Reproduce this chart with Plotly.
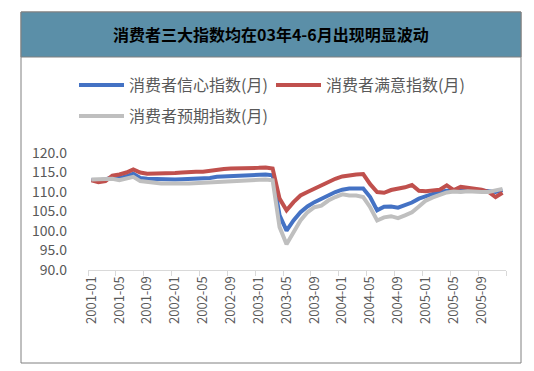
import plotly.graph_objects as go

months = [f"{y}-{m:02d}" for y in range(2001, 2006) for m in range(1, 13)]

confidence = [113.1, 113.0, 113.2, 113.8, 113.6, 114.0, 114.7, 113.6, 113.4, 113.3,
              113.2, 113.2, 113.2, 113.3, 113.4, 113.4, 113.4, 113.6, 113.9, 114.0,
              114.0, 114.1, 114.3, 114.4, 114.5, 114.5, 114.3, 104.0, 100.1, 102.7,
              104.8, 106.3, 107.4, 108.3, 109.1, 110.0, 110.6, 110.9, 110.9, 110.9,
              108.7, 105.3, 106.2, 106.3, 106.0, 106.6, 107.3, 108.3, 109.0, 109.5,
              110.0, 110.3, 110.3, 110.5, 110.4, 110.6, 110.4, 110.2, 110.0, 110.5]

satisfaction = [113.0, 112.5, 112.8, 114.2, 114.5, 115.0, 115.8, 115.0, 114.7, 114.7,
                114.8, 114.8, 114.9, 115.0, 115.2, 115.2, 115.2, 115.5, 115.8, 115.9,
                116.0, 116.0, 116.0, 116.1, 116.2, 116.3, 116.0, 108.3, 105.3, 107.4,
                109.1, 110.0, 110.9, 111.7, 112.6, 113.4, 114.0, 114.3, 114.5, 114.6,
                112.0, 110.0, 109.8, 110.5, 110.8, 111.2, 111.8, 110.3, 110.2, 110.4,
                110.6, 111.7, 110.5, 111.3, 111.0, 110.8, 110.6, 110.0, 108.7, 109.8]

expectation = [113.2, 113.2, 113.4, 113.4, 113.0, 113.4, 113.9, 112.8, 112.6, 112.3,
               112.2, 112.2, 112.3, 112.2, 112.2, 112.3, 112.3, 112.5, 112.6, 112.6,
               112.6, 112.8, 113.0, 113.1, 113.2, 113.2, 113.0, 101.0, 96.6, 99.6,
               102.7, 104.8, 106.1, 106.5, 107.8, 108.7, 109.4, 109.1, 109.1, 108.7,
               106.1, 102.7, 103.5, 103.8, 103.3, 104.0, 104.8, 106.3, 107.8, 108.6,
               109.2, 109.9, 110.1, 110.0, 110.2, 110.0, 110.0, 110.0, 110.3, 110.8]

names = ["消费者信心指数(月)", "消费者满意指数(月)", "消费者预期指数(月)"]
colors = ["#4472C4", "#C0504D", "#BFBFBF"]
title_text = "消费者三大指数均在03年4-6月出现明显波动"

# page is offset by the browser's default 8px body margin
OFF = 8
PAGE_W, PAGE_H = 534, 371
W, H = PAGE_W - OFF, PAGE_H - OFF
# plot area in page pixels
PX0, PX1, PY0, PY1 = 88, 506, 153, 270
L, R, T, B = PX0 - OFF, PAGE_W - PX1, PY0 - OFF, PAGE_H - PY1
PW, PH = W - L - R, H - T - B

def px_x(px):
    return (px - OFF - L) / PW

def px_y(py):
    return (H - B - (py - OFF)) / PH

FONT = "Noto Sans CJK SC"
idx = list(range(len(months)))

fig = go.Figure()
series = [confidence, satisfaction, expectation]
legends = ["legend", "legend2", "legend3"]
for s, n, c, lg in zip(series, names, colors, legends):
    fig.add_trace(go.Scatter(x=idx, y=s, name=n, mode="lines",
                             line=dict(color=c, width=4), legend=lg))

tickvals = idx[::4]
ticktext = [months[i] for i in tickvals]

def leg(xpx, ypx):
    return dict(orientation="h", xref="container", yref="container",
                x=(xpx - OFF) / W, y=1 - (ypx - OFF) / H, xanchor="left", yanchor="top",
                itemwidth=45,
                font=dict(size=16, color="#595959", family=FONT),
                bgcolor="rgba(0,0,0,0)")

fig.update_layout(
    width=W, height=H,
    margin=dict(l=L, r=R, t=T, b=B, autoexpand=False),
    paper_bgcolor="white", plot_bgcolor="white",
    font=dict(family=FONT, color="#595959"),
    showlegend=True,
    legend=leg(74, 68),
    legend2=leg(271, 68),
    legend3=leg(74, 99),
    xaxis=dict(range=[-0.5, len(months) - 0.5], tickvals=tickvals, ticktext=ticktext,
               tickangle=-90, ticks="", showgrid=False, zeroline=False,
               showline=True, linecolor="#D9D9D9", linewidth=1,
               tickfont=dict(size=13, color="#595959", family=FONT),
               minor=dict(tick0=-0.5, dtick=4, ticks="outside", ticklen=5,
                          tickcolor="#D9D9D9", showgrid=False)),
    yaxis=dict(range=[90, 120], dtick=5, tickformat=".1f", showgrid=False,
               zeroline=False, showline=False, ticks="", ticklabelstandoff=20,
               tickfont=dict(size=14, color="#595959", family=FONT)),
    shapes=[
        dict(type="rect", xref="paper", yref="paper",
             x0=px_x(21), x1=px_x(521), y0=px_y(363), y1=px_y(12),
             line=dict(color="#808080", width=1), fillcolor="rgba(0,0,0,0)", layer="below"),
        dict(type="rect", xref="paper", yref="paper",
             x0=px_x(21), x1=px_x(521), y0=px_y(57), y1=px_y(12),
             line=dict(color="#808080", width=1), fillcolor="#5B8FA8", layer="below"),
    ],
    annotations=[
        dict(text="<b>" + title_text + "</b>", xref="paper", yref="paper",
             x=px_x(271), y=px_y(34), xanchor="center", yanchor="middle",
             showarrow=False, font=dict(size=16, color="#000000", family=FONT)),
    ],
)

fig.write_html("out.html")
